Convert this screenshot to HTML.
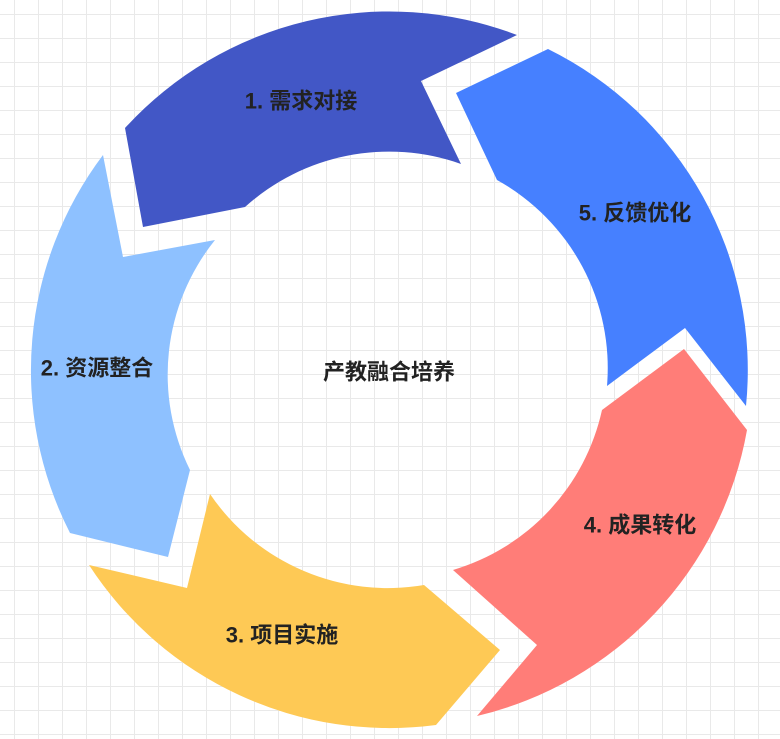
<!DOCTYPE html>
<html><head><meta charset="utf-8"><style>
html,body{margin:0;padding:0;}
body{width:780px;height:739px;overflow:hidden;background:#fff;
background-image:linear-gradient(#e9e9e9 1px,transparent 1px),linear-gradient(90deg,#e9e9e9 1px,transparent 1px);
background-size:24px 24px;background-position:14px 14px;}
svg{position:absolute;left:0;top:0;}
text{font-family:"Liberation Sans","Noto Sans CJK SC",sans-serif;font-weight:bold;font-size:22px;fill:#222;text-anchor:middle;dominant-baseline:central;}
</style></head><body>
<svg width="780" height="739" viewBox="0 0 780 739">
<path fill="#4257c6" d="M517,35 A358,358 0 0 0 125,128 L143,227 L245,207 A215,215 0 0 1 461,164 L421,81 Z"/>
<path fill="#4680ff" d="M746,406 A358,358 0 0 0 548,49 L456,93 L497,180 A215,215 0 0 1 607,386 L685,328 Z"/>
<path fill="#ff7d78" d="M477,716 A358,358 0 0 0 747,430 L684,349 L602,410 A215,215 0 0 1 453,570 L537,645 Z"/>
<path fill="#fec955" d="M89,565 A358,358 0 0 0 436,725 L500,650 L424,585 A215,215 0 0 1 210,494 L187,588 Z"/>
<path fill="#8ec1ff" d="M103,155 A358,358 0 0 0 70,533 L168,557 L190,470 A215,215 0 0 1 215,240 L123,257 Z"/>
<text x="301" y="101">1. 需求对接</text>
<text x="635" y="213">5. 反馈优化</text>
<text x="640" y="525">4. 成果转化</text>
<text x="282" y="635">3. 项目实施</text>
<text x="97" y="368">2. 资源整合</text>
<text x="389" y="372">产教融合培养</text>
</svg>
</body></html>
